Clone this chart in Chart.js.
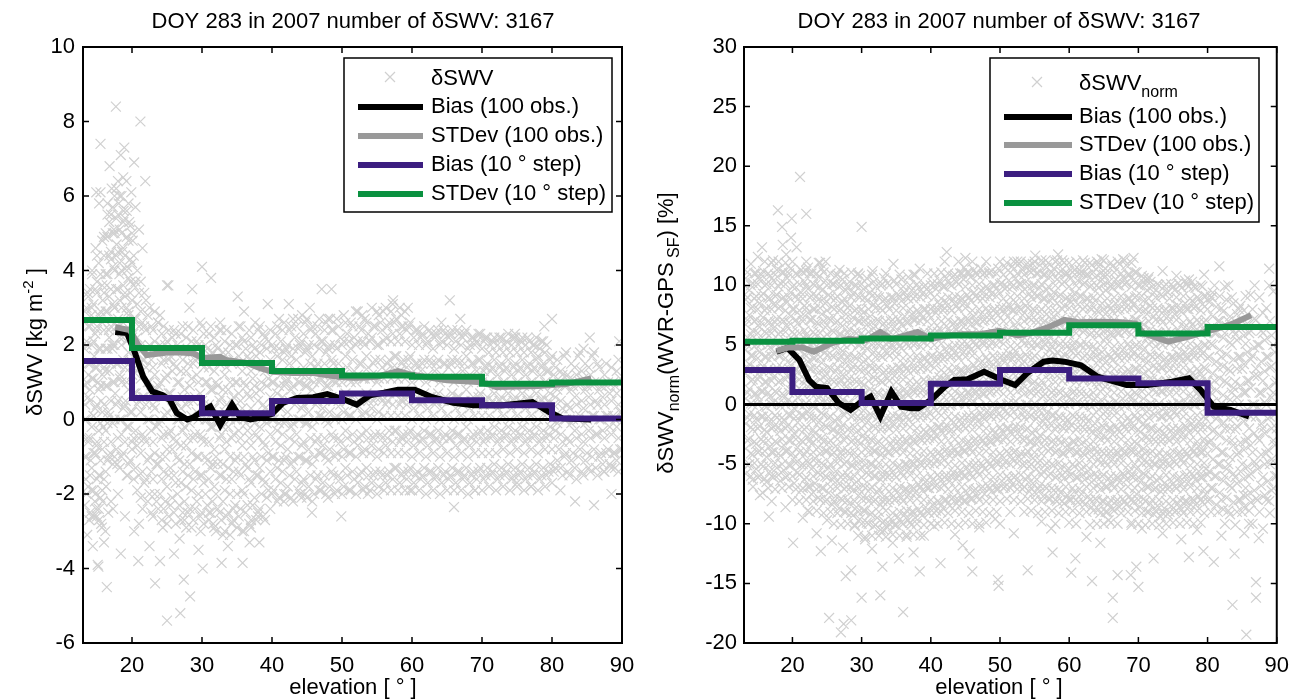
<!DOCTYPE html>
<html>
<head>
<meta charset="utf-8">
<script src="https://cdn.jsdelivr.net/npm/chart.js@4.4.1/dist/chart.umd.min.js"></script>
<style>
  html, body { margin: 0; padding: 0; background: #fff; }
  #wrap { position: relative; width: 1299px; height: 700px; }
  #wrap canvas { position: absolute; left: 0; top: 0; }
</style>
</head>
<body>
<div id="wrap">
  <canvas id="left" width="1299" height="700"></canvas>
  <canvas id="right" width="1299" height="700"></canvas>
</div>
<script>
// ---- data ----
const titleText = 'DOY 283 in 2007 number of δSWV: 3167';
const xTicks = [20, 30, 40, 50, 60, 70, 80, 90];
const leftYTicks = [-6, -4, -2, 0, 2, 4, 6, 8, 10];
const rightYTicks = [-20, -15, -10, -5, 0, 5, 10, 15, 20, 25, 30];
const legendLabels = ['Bias (100 obs.)', 'STDev (100 obs.)', 'Bias (10 ° step)', 'STDev (10 ° step)'];

const stepEdges = [13, 20, 30, 40, 50, 60, 70, 80, 90];
const leftBias10 = [1.57, 0.58, 0.17, 0.5, 0.7, 0.52, 0.38, 0.03];
const leftStd10 = [2.67, 1.92, 1.52, 1.30, 1.18, 1.15, 0.96, 0.99];
const rightBias10 = [2.9, 1.05, 0.13, 1.75, 2.9, 2.2, 1.79, -0.68];
const rightStd10 = [5.27, 5.36, 5.55, 5.8, 6.03, 6.66, 5.97, 6.52];

const leftBias100 = [[17.6,2.35],[19.3,2.32],[20.4,1.8],[21.6,1.15],[22.9,0.75],[24.4,0.65],[25.4,0.52],[26.4,0.17],[27.9,0.0],[28.7,0.05],[30.7,0.3],[31.2,0.35],[32.6,-0.15],[34.3,0.4],[35.4,0.07],[36.9,0.0],[38.3,0.05],[40,0.15],[41.6,0.45],[43.6,0.58],[45.9,0.6],[47.9,0.68],[50.1,0.55],[52.1,0.4],[54,0.65],[56,0.72],[58,0.8],[60.4,0.8],[62.9,0.6],[65.9,0.45],[68.8,0.38],[73,0.38],[77.2,0.47],[79.6,0.2],[81.5,0.03],[85.6,0.0]];
const leftStd100 = [[17.6,2.48],[19.7,2.4],[20.9,2.0],[22.1,1.73],[25,1.8],[26.9,1.8],[28.7,1.78],[30.1,1.65],[32.6,1.68],[33.4,1.6],[36.4,1.52],[38.3,1.38],[40.1,1.28],[43,1.25],[45.9,1.25],[49.7,1.14],[52,1.12],[55,1.15],[58,1.3],[60,1.2],[65,1.05],[70,1.0],[72,0.87],[78,0.9],[82,0.95],[85.6,1.1]];
const rightBias100 = [[17.7,4.44],[19.3,4.75],[21,3.74],[22.4,2.06],[23.4,1.5],[25,1.39],[26.7,0.13],[28.4,-0.45],[30,0.25],[31.3,0.66],[32.7,-1.0],[34.3,1.08],[35.7,-0.18],[37.2,-0.3],[38.2,-0.3],[40,0.38],[42,1.5],[43.4,2.06],[45.3,2.12],[47.7,2.76],[50.3,2.06],[52.2,1.64],[53.9,2.62],[56.3,3.6],[57.6,3.7],[59.3,3.6],[61.7,3.3],[64.1,2.34],[68.3,1.64],[71.3,1.64],[74.9,1.92],[77.3,2.2],[79,1.22],[80.9,-0.18],[83.3,-0.45],[86,-1.0]];
const rightStd100 = [[17.7,4.5],[19.5,4.8],[21.4,4.8],[23.1,4.44],[25.7,5.16],[28.1,5.5],[30.6,5.4],[32.7,6.1],[34.3,5.5],[36.3,5.8],[38.1,6.1],[40,5.5],[42.4,5.8],[44.7,5.9],[47.1,5.9],[49.9,6.2],[52.6,5.8],[54.4,6.0],[57,6.5],[59.3,7.1],[61.5,6.9],[64.7,6.95],[67.5,6.9],[69.6,6.8],[70.7,6.0],[74.3,5.28],[77.3,5.7],[80.3,6.2],[83.3,6.7],[86.3,7.5]];

// δSWV [kg m^-2]: scattered / outlying observations
const leftScatter = [
  [13.3,0.4],[13.4,-1.6],[13.5,2.1],[13.6,-0.5],[13.7,3.4],[13.8,1.2],[13.9,-2.7],[14.0,0.8],[14.1,-1.1],[14.2,2.8],[14.3,3.9],[14.4,-3.4],[14.5,0.1],[14.6,1.7],[14.7,-2.2],[14.8,4.6],[14.9,-0.7],[15.0,2.5],[15.1,-3.9],[15.2,1.0],[15.3,5.8],[15.4,-1.5],[15.5,6.1],[15.6,0.5],[15.7,-2.9],[15.8,3.2],[15.9,-0.2],[16.0,4.9],[15.5,7.4],[14.9,6.1],[14.3,4.0],[15.0,3.7],[16.4,-4.5],[15.2,-3.95],[14.6,-2.6],[15.6,-2.8],[16.0,-3.3],[14.9,-2.4],[15.3,-2.7],[15.8,-2.2],[16.2,-3.0],[16.6,-2.5],[14.2,-1.9],[13.6,-3.1],
  [16.2,1.3],[16.3,-1.8],[16.4,3.6],[16.5,5.5],[16.6,0.2],[16.7,2.4],[16.8,6.8],[16.9,-0.9],[17.0,4.3],[17.1,6.2],[17.2,1.9],[17.3,-2.4],[17.4,5.1],[17.5,3.0],[17.6,0.7],[17.7,8.4],[17.8,4.7],[17.9,-1.2],[18.0,2.7],[18.1,5.8],[18.2,3.9],[18.3,1.1],[18.4,7.1],[18.5,-0.4],[18.6,4.5],[18.7,2.2],[18.8,5.6],[18.9,7.3],[19.0,3.3],[19.1,0.5],[19.2,6.4],[19.3,4.1],[19.4,-1.5],[19.5,2.9],[19.6,5.3],[19.7,1.6],[19.8,3.7],[19.9,6.1],[20.0,-0.6],[20.1,4.8],[20.3,6.9],[20.2,2.3],[18.4,-3.6],[20.3,-3.0],[20.9,-3.8],[17.0,-2.2],[18.0,-2.0],[19.0,-2.6],[21.2,8.0],[21.9,6.4],[20.5,5.7],[21.0,5.1],[21.5,4.6],
  [24.0,-3.8],[23.3,-4.4],[25.0,-5.4],[26.9,-5.2],[27.4,-4.3],[28.3,-4.75],[22.5,-3.4],[26.0,-3.6],[29.5,-3.5],[25.0,3.6],[21.0,-2.8],[23.7,2.6],[27.5,-2.7],[28.6,3.5],[28.2,3.0],[25.2,3.6],[26.8,-3.2],[29.8,-3.0],[24.4,-2.9],
  [30.0,4.1],[31.3,3.8],[32.8,-3.85],[35.8,-3.85],[38.2,-3.3],[33.7,-3.4],[30.1,-4.0],[35.1,3.3],[31.0,-2.5],[34.5,-2.7],[37.0,-2.9],[36.0,2.9],[39.4,3.1],[36.8,-3.3],[33.0,-3.1],[31.6,-2.8],[35.0,-2.9],[38.0,-2.6],[32.6,2.6],[37.6,2.6],
  [42.4,3.1],[45.4,3.0],[45.7,-2.5],[47.1,3.5],[48.5,3.5],[48.3,2.7],[49.9,-2.6],[44.2,-2.1],[41.7,-2.2],[44.3,2.8],[53.7,-2.0],[55.9,2.9],[57.3,3.2],[59.4,3.0],[58.5,2.8],[52.9,2.8],[59.7,-1.9],
  [65.4,3.2],[66.0,-2.35],[66.9,2.7],[64.2,2.6],[69.0,-1.9],[74.7,2.3],[78.9,2.5],[80.0,2.7],[77.0,-1.8],[75.0,-1.7],
  [83.3,-2.2],[85.4,2.2],[86.0,-2.3],[88.5,-2.0],[89.6,2.1],[89.0,-1.3],[87.4,-1.4],[81.2,-1.9],[84.0,1.8],[86.5,1.5]
];
// δSWV [kg m^-2]: dense core, [elevation, values]
const leftCore = [
  [13.25,[-2.3,-1.0,0.0,0.9,1.9,2.9]],[13.75,[-1.8,-0.6,0.6,1.5,2.5,3.3]],[14.25,[-2.6,-1.3,-0.2,1.1,2.0,3.0]],[14.75,[-2.0,-0.9,0.3,1.4,2.3,3.5]],
  [15.25,[-2.4,-1.5,-0.3,0.8,1.9,2.8,4.2]],[15.75,[-1.9,-0.8,0.2,1.2,2.6,3.6,4.8]],[16.25,[-1.4,-0.3,0.9,1.9,2.9,3.9,5.0]],[16.75,[-1.0,0.1,1.3,2.2,3.3,4.4,5.3]],
  [17.25,[-1.2,-0.1,1.0,2.0,3.1,4.1,5.0,5.7]],[17.75,[-0.8,0.4,1.5,2.5,3.5,4.4,5.4,6.2]],[18.25,[-1.3,0.0,1.2,2.2,3.2,4.2,5.1,6.0]],[18.75,[-0.9,0.3,1.6,2.6,3.6,4.6,5.3,6.5]],
  [19.25,[-1.5,-0.2,1.0,2.1,3.0,4.0,4.9,5.6]],[19.75,[-1.1,0.2,1.4,2.4,3.4,4.3,5.2]],[20.25,[-1.6,-0.5,0.7,1.7,2.7,3.6,4.4]],[20.75,[-1.9,-0.7,0.4,1.3,2.2,3.1,4.0]],
  [21.25,[-2.1,-0.9,0.2,1.1,2.0,2.9,3.7]],[21.75,[-1.7,-0.5,0.6,1.6,2.5,3.4]],[22.25,[-2.2,-1.1,0.0,1.0,1.9,2.8]],[22.75,[-2.5,-1.4,-0.3,0.7,1.6,2.5]],
  [23.25,[-2.0,-0.9,0.3,1.2,2.1,2.9]],[23.75,[-2.4,-1.2,-0.1,0.9,1.8,2.6]],[24.25,[-2.7,-1.6,-0.5,0.6,1.5,2.3]],[24.75,[-2.2,-1.0,0.1,1.1,2.0]],
  [25.25,[-2.6,-1.5,-0.4,0.7,1.6,2.4]],[25.75,[-2.1,-0.8,0.3,1.3,2.2]],[26.25,[-2.8,-1.7,-0.6,0.5,1.4,2.3]],[26.75,[-2.3,-1.1,0.0,1.0,1.9]],
  [27.25,[-2.5,-1.4,-0.3,0.6,1.6,2.5]],[27.75,[-2.9,-1.8,-0.7,0.4,1.3,2.2]],[28.25,[-2.4,-1.2,-0.1,0.9,1.8]],[28.75,[-2.7,-1.6,-0.5,0.5,1.5,2.4]],
  [29.25,[-2.2,-1.0,0.2,1.2,2.1]],[29.75,[-2.6,-1.5,-0.4,0.7,1.7,2.6]],[30.25,[-2.8,-1.7,-0.6,0.4,1.4,2.3]],[30.75,[-2.3,-1.1,0.0,1.0,1.9]],
  [31.25,[-2.5,-1.3,-0.2,0.8,1.7,2.5]],[31.75,[-2.9,-1.8,-0.8,0.3,1.3,2.2]],[32.25,[-2.4,-1.2,-0.1,0.9,1.9]],[32.75,[-2.7,-1.5,-0.4,0.6,1.6,2.4]],
  [33.25,[-3.0,-1.9,-0.8,0.2,1.2,2.1]],[33.75,[-2.5,-1.3,-0.2,0.8,1.8]],[34.25,[-2.8,-1.6,-0.5,0.5,1.5,2.3]],[34.75,[-2.3,-1.1,0.0,1.0,2.0]],
  [35.25,[-2.6,-1.4,-0.3,0.7,1.7,2.5]],[35.75,[-3.0,-1.9,-0.7,0.3,1.3,2.2]],[36.25,[-2.5,-1.2,-0.1,0.9,1.9]],[36.75,[-2.8,-1.6,-0.5,0.6,1.6,2.4]],
  [37.25,[-2.3,-1.0,0.1,1.1,2.0]],[37.75,[-2.7,-1.5,-0.4,0.7,1.7]],[38.25,[-2.4,-1.3,-0.2,0.8,1.8,2.5]],[38.75,[-2.6,-1.6,-0.6,0.4,1.4,2.3]],
  [39.25,[-2.1,-1.1,-0.1,0.9,1.9]],[39.75,[-2.4,-1.4,-0.4,0.6,1.6,2.4]],[40.25,[-1.9,-1.0,0.0,1.0,1.9]],[40.75,[-2.2,-1.3,-0.3,0.7,1.7,2.5]],
  [41.25,[-1.7,-0.7,0.3,1.2,2.1]],[41.75,[-2.0,-1.1,-0.1,0.9,1.8,2.6]],[42.25,[-1.8,-0.8,0.2,1.1,2.0]],[42.75,[-2.1,-1.2,-0.2,0.8,1.7,2.5]],
  [43.25,[-1.6,-0.6,0.4,1.3,2.2]],[43.75,[-1.9,-1.0,0.0,1.0,1.9,2.7]],[44.25,[-1.7,-0.7,0.3,1.2,2.1]],[44.75,[-2.0,-1.1,-0.1,0.9,1.8,2.6]],
  [45.25,[-1.8,-0.8,0.2,1.1,2.0]],[45.75,[-2.2,-1.2,-0.2,0.8,1.7,2.5]],[46.25,[-1.6,-0.6,0.4,1.4,2.3]],[46.75,[-1.9,-0.9,0.1,1.0,1.9,2.7]],
  [47.25,[-1.7,-0.7,0.3,1.2,2.1]],[47.75,[-2.0,-1.0,0.0,0.9,1.8,2.6]],[48.25,[-1.8,-0.8,0.2,1.1,2.0]],[48.75,[-1.5,-0.5,0.5,1.5,2.4]],
  [49.25,[-1.9,-0.9,0.1,1.0,1.9,2.7]],[49.75,[-1.6,-0.6,0.4,1.3,2.2]],[50.25,[-1.8,-0.8,0.2,1.2,2.1,2.8]],[50.75,[-1.5,-0.5,0.5,1.4,2.3]],
  [51.25,[-1.9,-0.9,0.1,1.0,1.9,2.6]],[51.75,[-1.6,-0.6,0.4,1.3,2.2]],[52.25,[-1.7,-0.7,0.3,1.2,2.1,2.9]],[52.75,[-1.4,-0.4,0.6,1.5,2.4]],
  [53.25,[-1.8,-0.8,0.2,1.1,2.0,2.7]],[53.75,[-1.5,-0.5,0.5,1.4,2.3]],[54.25,[-1.7,-0.7,0.3,1.2,2.2,3.0]],[54.75,[-1.4,-0.4,0.6,1.6,2.5]],
  [55.25,[-1.8,-0.8,0.2,1.1,2.0,2.8]],[55.75,[-1.5,-0.5,0.5,1.4,2.4]],[56.25,[-1.7,-0.7,0.4,1.3,2.2,3.0]],[56.75,[-1.4,-0.3,0.7,1.6,2.6]],
  [57.25,[-1.6,-0.6,0.4,1.4,2.3,3.1]],[57.75,[-1.3,-0.3,0.7,1.7,2.7]],[58.25,[-1.7,-0.6,0.4,1.3,2.3,3.0]],[58.75,[-1.4,-0.4,0.6,1.6,2.5]],
  [59.25,[-1.6,-0.6,0.4,1.4,2.4]],[59.75,[-1.3,-0.3,0.7,1.7,2.6]],[60.25,[-1.7,-0.7,0.3,1.3,2.2]],[60.75,[-1.4,-0.4,0.6,1.5,2.4]],
  [61.25,[-1.6,-0.6,0.4,1.3,2.2]],[61.75,[-1.3,-0.3,0.7,1.6,2.5]],[62.25,[-1.7,-0.7,0.3,1.2,2.1]],[62.75,[-1.4,-0.4,0.6,1.5,2.3]],
  [63.25,[-1.6,-0.6,0.4,1.3,2.2]],[63.75,[-1.3,-0.3,0.7,1.6,2.4]],[64.25,[-1.7,-0.7,0.3,1.2,2.1]],[64.75,[-1.4,-0.4,0.6,1.5,2.3]],
  [65.25,[-1.6,-0.5,0.5,1.4,2.2]],[65.75,[-1.3,-0.3,0.7,1.6,2.4]],[66.25,[-1.7,-0.7,0.3,1.2,2.1]],[66.75,[-1.4,-0.4,0.6,1.5,2.3]],
  [67.25,[-1.6,-0.6,0.4,1.3,2.2]],[67.75,[-1.3,-0.2,0.8,1.7,2.4]],[68.25,[-1.7,-0.7,0.3,1.2,2.0]],[68.75,[-1.4,-0.4,0.6,1.5,2.2]],
  [69.25,[-1.6,-0.6,0.4,1.3,2.1]],[69.75,[-1.3,-0.3,0.7,1.6,2.3]],[70.25,[-1.6,-0.6,0.4,1.3,2.1]],[70.75,[-1.3,-0.3,0.6,1.5,2.2]],
  [71.25,[-1.5,-0.5,0.4,1.3,2.0]],[71.75,[-1.2,-0.2,0.7,1.6,2.2]],[72.25,[-1.6,-0.6,0.3,1.2,2.0]],[72.75,[-1.3,-0.3,0.6,1.5,2.2]],
  [73.25,[-1.5,-0.5,0.4,1.3,2.0]],[73.75,[-1.2,-0.2,0.7,1.6,2.3]],[74.25,[-1.6,-0.6,0.3,1.2,2.0]],[74.75,[-1.3,-0.3,0.6,1.5,2.2]],
  [75.25,[-1.5,-0.5,0.4,1.3,2.0]],[75.75,[-1.2,-0.2,0.7,1.6,2.2]],[76.25,[-1.6,-0.6,0.3,1.2,2.0]],[76.75,[-1.3,-0.3,0.6,1.5,2.1]],
  [77.25,[-1.5,-0.5,0.4,1.3,2.0]],[77.75,[-1.2,-0.2,0.7,1.6,2.2]],[78.25,[-1.6,-0.6,0.3,1.2,1.9]],[78.75,[-1.3,-0.3,0.6,1.5,2.1]],
  [79.25,[-1.5,-0.5,0.4,1.3,2.0]],[79.75,[-1.2,-0.2,0.7,1.6]],[80.25,[-1.4,-0.5,0.4,1.2]],[80.75,[-1.1,-0.1,0.8,1.6]],
  [81.25,[-1.3,-0.4,0.5,1.3]],[81.75,[-1.0,0.0,0.9,1.7]],[82.25,[-1.4,-0.5,0.4,1.2]],[82.75,[-1.1,-0.1,0.8,1.5]],
  [83.25,[-1.3,-0.3,0.6,1.4]],[83.75,[-1.0,0.0,0.9,1.7]],[84.25,[-1.4,-0.4,0.5,1.3]],[84.75,[-1.1,-0.1,0.8,1.5]],
  [85.25,[-1.3,-0.3,0.6,1.4]],[85.75,[-1.0,0.1,0.9,1.7]],[86.25,[-1.3,-0.4,0.5]],[86.75,[-1.0,0.0,0.8,1.4]],
  [87.25,[-1.2,-0.3,0.6]],[87.75,[-0.9,0.1,0.9,1.5]],[88.25,[-1.2,-0.2,0.7]],[88.75,[-0.9,0.1,1.0]],
  [89.25,[-1.1,-0.2,0.7,1.3]],[89.75,[-0.8,0.2,1.1]]
];
const leftCore2 = [
  [13.5,[-2.0,-1.0,0.0,1.0,2.0,3.0]],[14.0,[-2.5,-1.5,-0.5,0.5,1.5,2.5,3.5]],[14.5,[-1.9,-0.9,0.1,1.1,2.1,3.1]],[15.0,[-2.6,-1.6,-0.6,0.4,1.4,2.4,3.4,4.4]],
  [15.5,[-2.1,-1.1,-0.1,0.9,1.9,2.9,3.9]],[16.0,[-1.6,-0.6,0.4,1.4,2.4,3.4,4.4]],[16.5,[-1.1,-0.1,0.9,1.9,2.9,3.9,4.9,5.8]],[17.0,[-0.6,0.5,1.5,2.5,3.5,4.5,5.5]],
  [17.5,[-1.0,0.0,1.0,2.0,3.0,4.0,5.0,6.0]],[18.0,[-0.5,0.5,1.5,2.5,3.5,4.5,5.5,6.4]],[18.5,[-1.0,0.0,1.0,2.0,3.0,4.0,5.0,6.0]],[19.0,[-0.6,0.4,1.4,2.4,3.4,4.4,5.4]],
  [19.5,[-1.2,-0.2,0.8,1.8,2.8,3.8,4.8,5.8]],[20.0,[-0.8,0.2,1.2,2.2,3.2,4.2,5.0]],[20.5,[-1.3,-0.3,0.7,1.7,2.7,3.7]],[21.0,[-1.5,-0.5,0.5,1.5,2.5,3.4]],
  [21.5,[-2.4,-1.4,-0.4,0.6,1.6,2.6]],[22.0,[-1.6,-0.6,0.4,1.4,2.4,3.2]],[22.5,[-2.0,-1.0,0.0,1.0,2.0,3.0]],[23.0,[-2.6,-1.6,-0.6,0.4,1.4,2.4]],
  [23.5,[-2.2,-1.2,-0.2,0.8,1.8]],[24.0,[-2.0,-1.0,0.0,1.0,2.0,2.8]],[24.5,[-2.4,-1.4,-0.4,0.6,1.6,2.5]],[25.0,[-2.8,-1.8,-0.8,0.2,1.2,2.1]],
  [25.5,[-2.3,-1.3,-0.3,0.7,1.7]],[26.0,[-2.5,-1.5,-0.5,0.5,1.5,2.4]],[26.5,[-2.0,-1.0,0.0,1.0,2.0]],[27.0,[-2.7,-1.7,-0.7,0.3,1.3,2.3]],
  [27.5,[-2.2,-1.2,-0.2,0.8,1.8]],[28.0,[-2.5,-1.5,-0.5,0.5,1.5,2.5]],[28.5,[-2.9,-1.9,-0.9,0.1,1.1,2.1]],[29.0,[-2.4,-1.4,-0.4,0.6,1.6]],
  [29.5,[-2.0,-1.0,0.0,1.0,2.0]],[30.0,[-2.5,-1.5,-0.5,0.5,1.5,2.5]],[30.5,[-2.0,-1.0,0.0,1.0,2.0]],[31.0,[-2.7,-1.6,-0.6,0.4,1.4,2.3]],
  [31.5,[-2.2,-1.2,-0.2,0.8,1.8]],[32.0,[-3.0,-2.0,-1.0,0.0,1.0,2.0]],[32.5,[-2.5,-1.5,-0.5,0.5,1.5,2.4]],[33.0,[-2.2,-1.2,-0.2,0.8,1.8]],
  [33.5,[-2.6,-1.6,-0.6,0.4,1.4,2.4]],[34.0,[-3.1,-2.0,-1.0,0.0,1.0,2.0]],[34.5,[-2.4,-1.4,-0.4,0.6,1.6]],[35.0,[-2.0,-1.0,0.0,1.0,2.0]],
  [35.5,[-2.4,-1.5,-0.5,0.5,1.5,2.5]],[36.0,[-3.0,-2.0,-1.0,0.0,1.0,2.1]],[36.5,[-2.3,-1.3,-0.3,0.7,1.7]],[37.0,[-2.7,-1.7,-0.7,0.3,1.3,2.2]],
  [37.5,[-2.1,-1.1,-0.1,0.9,1.9]],[38.0,[-2.5,-1.5,-0.5,0.5,1.5,2.4]],[38.5,[-2.0,-1.0,0.0,1.0,2.0]],[39.0,[-2.7,-1.7,-0.7,0.3,1.3,2.2]],
  [39.5,[-1.9,-0.9,0.1,1.1,2.1]],[40.0,[-2.0,-1.0,0.0,1.0,2.0]],[40.5,[-1.6,-0.6,0.4,1.4,2.3]],[41.0,[-2.1,-1.1,-0.1,0.9,1.9,2.7]],
  [41.5,[-1.4,-0.4,0.6,1.6,2.4]],[42.0,[-2.0,-1.0,0.0,1.0,1.9]],[42.5,[-1.5,-0.5,0.5,1.5,2.4]],[43.0,[-2.2,-1.1,-0.1,0.9,1.9,2.7]],
  [43.5,[-1.4,-0.4,0.6,1.6,2.5]],[44.0,[-2.0,-1.0,0.0,1.0,2.0]],[44.5,[-1.6,-0.6,0.4,1.4,2.3]],[45.0,[-2.1,-1.1,-0.1,0.9,1.9,2.7]],
  [45.5,[-1.5,-0.5,0.5,1.5,2.4]],[46.0,[-2.0,-1.0,0.0,1.0,2.0]],[46.5,[-1.5,-0.5,0.5,1.5,2.5]],[47.0,[-1.9,-0.9,0.1,1.1,2.1]],
  [47.5,[-1.5,-0.5,0.5,1.5,2.4]],[48.0,[-2.1,-1.1,-0.1,0.9,1.9,2.7]],[48.5,[-1.4,-0.4,0.6,1.6,2.4]],[49.0,[-2.0,-1.0,0.0,1.0,2.0]],
  [49.5,[-1.5,-0.5,0.5,1.5,2.5]],[50.0,[-2.0,-1.0,0.0,1.0,2.0]],[50.5,[-1.3,-0.3,0.7,1.7,2.6]],[51.0,[-1.9,-0.9,0.1,1.1,2.1]],
  [51.5,[-1.4,-0.4,0.6,1.6,2.5]],[52.0,[-2.0,-1.0,0.0,1.0,2.0,2.9]],[52.5,[-1.5,-0.5,0.5,1.5,2.5]],[53.0,[-1.9,-0.9,0.1,1.1,2.1]],
  [53.5,[-1.3,-0.3,0.7,1.7,2.6]],[54.0,[-1.9,-0.9,0.1,1.1,2.1]],[54.5,[-1.5,-0.5,0.5,1.5,2.5]],[55.0,[-2.0,-1.0,0.0,1.0,2.0,2.9]],
  [55.5,[-1.4,-0.4,0.6,1.6,2.6]],[56.0,[-1.9,-0.9,0.1,1.1,2.1]],[56.5,[-1.5,-0.5,0.5,1.5,2.5]],[57.0,[-1.9,-0.9,0.1,1.1,2.1,2.9]],
  [57.5,[-1.3,-0.3,0.7,1.7,2.6]],[58.0,[-1.9,-0.9,0.1,1.1,2.1]],[58.5,[-1.5,-0.5,0.5,1.5,2.5]],[59.0,[-1.9,-0.9,0.1,1.1,2.1,2.9]],
  [59.5,[-1.4,-0.4,0.6,1.6,2.5]],[60.0,[-1.9,-1.0,0.0,1.0,2.0]],[60.5,[-1.5,-0.5,0.5,1.5,2.4]],[61.0,[-1.9,-0.9,0.1,1.1,2.0]],
  [61.5,[-1.5,-0.5,0.5,1.5,2.3]],[62.0,[-2.0,-1.0,0.0,1.0,2.0]],[62.5,[-1.4,-0.4,0.6,1.6,2.4]],[63.0,[-1.9,-0.9,0.1,1.1,1.9]],
  [63.5,[-1.5,-0.5,0.5,1.5,2.3]],[64.0,[-2.0,-1.0,0.0,1.0,2.0]],[64.5,[-1.5,-0.5,0.5,1.5,2.4]],[65.0,[-1.9,-0.9,0.1,1.1,2.0]],
  [65.5,[-1.5,-0.5,0.5,1.5,2.3]],[66.0,[-1.9,-1.0,0.0,1.0,1.9]],[66.5,[-1.4,-0.4,0.6,1.6,2.4]],[67.0,[-1.9,-0.9,0.1,1.1,2.0]],
  [67.5,[-1.5,-0.5,0.5,1.5,2.3]],[68.0,[-2.0,-1.0,0.0,1.0,1.9]],[68.5,[-1.5,-0.5,0.5,1.5,2.2]],[69.0,[-1.9,-0.9,0.1,1.1,2.0]],
  [69.5,[-1.4,-0.4,0.6,1.6,2.3]],[70.0,[-1.9,-0.9,0.1,1.0,1.9]],[70.5,[-1.5,-0.5,0.5,1.4,2.2]],[71.0,[-1.8,-0.9,0.1,1.0,1.8]],
  [71.5,[-1.4,-0.4,0.5,1.4,2.1]],[72.0,[-1.9,-0.9,0.0,0.9,1.8]],[72.5,[-1.5,-0.5,0.5,1.4,2.2]],[73.0,[-1.8,-0.8,0.1,1.0,1.8]],
  [73.5,[-1.4,-0.4,0.5,1.4,2.1]],[74.0,[-1.9,-0.9,0.0,0.9,1.8]],[74.5,[-1.5,-0.5,0.5,1.4,2.2]],[75.0,[-1.8,-0.8,0.1,1.0,1.8]],
  [75.5,[-1.4,-0.4,0.5,1.4,2.1]],[76.0,[-1.9,-0.9,0.0,0.9,1.8]],[76.5,[-1.5,-0.5,0.5,1.4,2.2]],[77.0,[-1.8,-0.8,0.1,1.0,1.8]],
  [77.5,[-1.4,-0.4,0.5,1.4,2.0]],[78.0,[-1.9,-0.9,0.0,0.9,1.7]],[78.5,[-1.5,-0.5,0.5,1.4,2.1]],[79.0,[-1.8,-0.8,0.1,1.0,1.8]],
  [79.5,[-1.4,-0.4,0.5,1.3]],[80.0,[-1.7,-0.8,0.0,0.9,1.7]],[80.5,[-1.3,-0.3,0.6,1.4]],[81.0,[-0.8,0.1,1.0]],
  [81.5,[-1.5,-0.6,0.3,1.2]],[82.0,[-0.9,0.0,0.9,1.8]],[82.5,[-1.5,-0.6,0.3,1.1]],[83.0,[-0.9,0.0,0.9]],
  [83.5,[-1.6,-0.5,0.4,1.2]],[84.0,[-0.8,0.1,1.0]],[84.5,[-1.5,-0.6,0.3,1.1,1.9]],[85.0,[-0.9,0.0,0.9]],
  [85.5,[-1.4,-0.5,0.4,1.2]],[86.0,[-0.8,0.1,1.0,1.8]],[86.5,[-1.5,-0.4,0.4]],[87.0,[-0.9,0.0,0.9]],
  [87.5,[-1.4,-0.5,0.4,1.2]],[88.0,[-0.8,0.1,1.0]],[88.5,[-1.3,-0.4,0.5,1.4]],[89.0,[-0.9,0.0,0.9]],
  [89.5,[-1.4,-0.5,0.4,1.6]],[90.0,[-0.8,0.2]]
];

// δSWV_norm [%]: scattered / outlying observations
const rightScatter = [
  [15.6,13.2],[17.9,16.3],[18.5,14.9],[18.6,13.4],[19.8,14.0],[19.9,15.6],[17.2,12.1],[19.1,12.6],[14.0,11.8],[15.0,12.4],[16.6,-9.4],[17.0,-8.1],[19.0,-8.6],[20.1,-11.6],[15.3,-7.6],[15.7,-7.4],[14.3,-6.9],
  [20.6,13.2],[21.1,19.1],[22.0,16.0],[22.0,11.2],[23.8,11.9],[24.8,12.0],[22.2,-8.9],[24.1,-12.3],[25.0,-9.7],[25.3,-17.9],[27.0,-19.1],[27.4,-18.4],[27.7,-14.4],[28.5,-13.9],[28.5,-18.1],[29.0,-10.2],[30.0,14.9],[30.0,-16.2],[21.5,-9.5],[23.5,-10.8],[25.7,-11.4],[27.3,-12.0],[26.8,11.3],[29.4,10.9],
  [31.6,11.2],[32.7,-16.0],[33.0,-13.6],[34.6,11.8],[35.4,-12.9],[36.0,-17.4],[38.4,-14.0],[38.4,11.4],[39.0,-11.0],[30.5,-11.3],[31.5,-12.1],[34.5,-11.6],[36.5,-10.9],[37.5,-12.4],[33.2,-10.5],[37.2,-10.1],
  [41.4,-13.3],[42.3,12.8],[44.8,11.5],[45.0,12.3],[45.6,-12.5],[46.0,-14.0],[48.4,11.0],[49.7,-14.7],[49.8,-15.2],[40.5,-10.2],[43.5,-10.9],[47.0,-10.3],[44.6,-11.8],[49.3,-9.6],
  [54.0,-13.9],[54.1,11.6],[55.1,12.5],[57.4,-10.4],[57.6,-12.4],[58.4,12.6],[59.5,11.1],[50.0,-10.0],[52.0,-10.8],[52.5,12.0],[56.6,12.1],[56.0,-9.8],
  [60.3,-14.1],[60.9,-12.9],[61.5,11.3],[63.3,-14.8],[64.2,11.9],[64.7,12.2],[65.7,-9.7],[66.3,-16.2],[66.3,-17.9],[67.0,-14.3],[67.8,12.2],[68.9,-14.3],[69.0,-10.1],[69.3,12.3],[69.7,-13.6],[62.5,-11.1],[64.5,-11.6],[62.0,11.0],[65.0,10.9],
  [70.0,-15.3],[72.2,-12.9],[73.5,11.2],[76.2,-11.3],[77.3,10.5],[77.3,-12.8],[79.4,-12.3],[79.5,10.9],[70.5,-10.4],[73.5,-10.8],[78.5,-10.5],[71.4,10.5],
  [80.9,-13.2],[81.7,11.6],[82.0,-11.0],[83.0,10.0],[83.6,-16.8],[83.9,-12.5],[85.3,-10.8],[85.6,-19.3],[86.0,-10.0],[86.2,9.2],[86.8,10.0],[87.0,-14.9],[87.0,-16.2],[87.4,-11.2],[88.0,-10.4],[88.0,7.7],[88.9,11.4],[88.9,10.0],[88.9,-8.1],[80.6,9.0],[85.2,-7.6]
];
// δSWV_norm [%]: dense core, [elevation, values]
const rightCore = [
  [13.25,[-5.8,-3.7,-1.6,0.5,2.6,4.6,6.7,8.8,10.6]],[13.75,[-5.0,-2.9,-0.8,1.3,3.4,5.5,7.5,9.6]],[14.25,[-6.3,-4.2,-2.1,0.0,2.1,4.1,6.2,8.2,10.2]],[14.75,[-5.4,-3.3,-1.2,0.9,3.0,5.0,7.1,9.1,11.0]],
  [15.25,[-6.0,-3.9,-1.8,0.3,2.4,4.4,6.5,8.5,10.5]],[15.75,[-5.2,-3.1,-1.0,1.1,3.2,5.3,7.3,9.3,11.2]],[16.25,[-6.5,-4.4,-2.3,-0.2,1.9,4.0,6.0,8.1,10.1]],[16.75,[-5.6,-3.5,-1.4,0.7,2.8,4.8,6.9,8.9,10.8]],
  [17.25,[-6.1,-4.0,-1.9,0.2,2.3,4.3,6.4,8.4,10.4]],[17.75,[-5.3,-3.2,-1.1,1.0,3.1,5.1,7.2,9.2,11.3]],[18.25,[-6.4,-4.3,-2.2,-0.1,2.0,4.1,6.1,8.2,10.2]],[18.75,[-5.5,-3.4,-1.3,0.8,2.9,4.9,7.0,9.0,11.1]],
  [19.25,[-6.0,-3.9,-1.8,0.3,2.4,4.5,6.5,8.6,10.6]],[19.75,[-5.1,-3.0,-0.9,1.2,3.3,5.3,7.4,9.4,11.4]],[20.25,[-6.6,-4.5,-2.4,-0.3,1.8,3.9,5.9,8.0,10.0]],[20.75,[-5.7,-3.6,-1.5,0.6,2.7,4.7,6.8,8.8,10.9]],
  [21.25,[-7.2,-5.1,-3.0,-0.9,1.2,3.3,5.3,7.4,9.4,11.3]],[21.75,[-6.3,-4.2,-2.1,0.0,2.1,4.2,6.2,8.3,10.3]],[22.25,[-6.9,-4.8,-2.7,-0.6,1.5,3.6,5.6,7.7,9.7,11.5]],[22.75,[-7.5,-5.4,-3.3,-1.2,0.9,3.0,5.0,7.1,9.1,11.0]],
  [23.25,[-6.6,-4.5,-2.4,-0.3,1.8,3.9,5.9,8.0,10.0]],[23.75,[-7.8,-5.7,-3.6,-1.5,0.6,2.7,4.7,6.8,8.8,10.7]],[24.25,[-7.0,-4.9,-2.8,-0.7,1.4,3.5,5.5,7.6,9.6,11.4]],[24.75,[-8.1,-6.0,-3.9,-1.8,0.3,2.4,4.4,6.5,8.5,10.4]],
  [25.25,[-7.4,-5.3,-3.2,-1.1,1.0,3.1,5.1,7.2,9.2]],[25.75,[-8.4,-6.3,-4.2,-2.1,0.0,2.1,4.1,6.2,8.2,10.1]],[26.25,[-7.7,-5.6,-3.5,-1.4,0.7,2.8,4.8,6.9,8.9,10.8]],[26.75,[-8.7,-6.6,-4.5,-2.4,-0.3,1.8,3.8,5.9,7.9,9.9]],
  [27.25,[-8.0,-5.9,-3.8,-1.7,0.4,2.5,4.5,6.6,8.6,10.5]],[27.75,[-9.0,-6.9,-4.8,-2.7,-0.6,1.5,3.5,5.6,7.6,9.6]],[28.25,[-8.3,-6.2,-4.1,-2.0,0.1,2.2,4.2,6.3,8.3,10.3]],[28.75,[-9.3,-7.2,-5.1,-3.0,-0.9,1.2,3.2,5.3,7.3,9.3]],
  [29.25,[-8.6,-6.5,-4.4,-2.3,-0.2,1.9,3.9,6.0,8.0,10.0]],[29.75,[-9.6,-7.5,-5.4,-3.3,-1.2,0.9,2.9,5.0,7.0,9.0,10.8]],[30.25,[-8.9,-6.8,-4.7,-2.6,-0.5,1.6,3.6,5.7,7.7,9.7]],[30.75,[-9.9,-7.8,-5.7,-3.6,-1.5,0.6,2.6,4.7,6.7,8.7,10.6]],
  [31.25,[-9.2,-7.1,-5.0,-2.9,-0.8,1.3,3.3,5.4,7.4,9.4]],[31.75,[-10.2,-8.1,-6.0,-3.9,-1.8,0.3,2.3,4.4,6.4,8.4,10.3]],[32.25,[-9.5,-7.4,-5.3,-3.2,-1.1,1.0,3.0,5.1,7.1,9.1]],[32.75,[-10.5,-8.4,-6.3,-4.2,-2.1,0.0,2.0,4.1,6.1,8.1,10.0]],
  [33.25,[-9.8,-7.7,-5.6,-3.5,-1.4,0.7,2.7,4.8,6.8,8.8,10.6]],[33.75,[-10.3,-8.2,-6.1,-4.0,-1.9,0.2,2.2,4.3,6.3,8.3,10.2]],[34.25,[-9.6,-7.5,-5.4,-3.3,-1.2,0.9,2.9,5.0,7.0,9.0]],[34.75,[-10.1,-8.0,-5.9,-3.8,-1.7,0.4,2.4,4.5,6.5,8.5,10.4]],
  [35.25,[-9.4,-7.3,-5.2,-3.1,-1.0,1.1,3.1,5.2,7.2,9.2]],[35.75,[-9.9,-7.8,-5.7,-3.6,-1.5,0.6,2.6,4.7,6.7,8.7,10.5]],[36.25,[-9.2,-7.1,-5.0,-2.9,-0.8,1.3,3.3,5.4,7.4,9.4]],[36.75,[-9.7,-7.6,-5.5,-3.4,-1.3,0.8,2.8,4.9,6.9,8.9,10.7]],
  [37.25,[-9.0,-6.9,-4.8,-2.7,-0.6,1.5,3.5,5.6,7.6,9.6]],[37.75,[-9.5,-7.4,-5.3,-3.2,-1.1,1.0,3.0,5.1,7.1,9.1,10.9]],[38.25,[-8.8,-6.7,-4.6,-2.5,-0.4,1.7,3.7,5.8,7.8,9.8]],[38.75,[-9.3,-7.2,-5.1,-3.0,-0.9,1.2,3.2,5.3,7.3,9.3]],
  [39.25,[-8.6,-6.5,-4.4,-2.3,-0.2,1.9,3.9,6.0,8.0,10.0]],[39.75,[-9.1,-7.0,-4.9,-2.8,-0.7,1.4,3.4,5.5,7.5,9.5]],[40.25,[-8.4,-6.3,-4.2,-2.1,0.0,2.1,4.1,6.2,8.2,10.2]],[40.75,[-8.9,-6.8,-4.7,-2.6,-0.5,1.6,3.6,5.7,7.7,9.7]],
  [41.25,[-8.2,-6.1,-4.0,-1.9,0.2,2.3,4.3,6.4,8.4,10.4]],[41.75,[-8.7,-6.6,-4.5,-2.4,-0.3,1.8,3.8,5.9,7.9,9.9]],[42.25,[-8.0,-5.9,-3.8,-1.7,0.4,2.5,4.5,6.6,8.6,10.6]],[42.75,[-8.5,-6.4,-4.3,-2.2,-0.1,2.0,4.0,6.1,8.1,10.1]],
  [43.25,[-7.8,-5.7,-3.6,-1.5,0.6,2.7,4.7,6.8,8.8,10.8]],[43.75,[-8.3,-6.2,-4.1,-2.0,0.1,2.2,4.2,6.3,8.3,10.3]],[44.25,[-7.6,-5.5,-3.4,-1.3,0.8,2.9,4.9,7.0,9.0,11.0]],[44.75,[-8.1,-6.0,-3.9,-1.8,0.3,2.4,4.4,6.5,8.5,10.5]],
  [45.25,[-7.4,-5.3,-3.2,-1.1,1.0,3.1,5.1,7.2,9.2,11.1]],[45.75,[-7.9,-5.8,-3.7,-1.6,0.5,2.6,4.6,6.7,8.7,10.7]],[46.25,[-7.2,-5.1,-3.0,-0.9,1.2,3.3,5.3,7.4,9.4,11.3]],[46.75,[-7.7,-5.6,-3.5,-1.4,0.7,2.8,4.8,6.9,8.9,10.9]],
  [47.25,[-7.0,-4.9,-2.8,-0.7,1.4,3.5,5.5,7.6,9.6,11.4]],[47.75,[-7.5,-5.4,-3.3,-1.2,0.9,3.0,5.0,7.1,9.1,11.0]],[48.25,[-6.8,-4.7,-2.6,-0.5,1.6,3.7,5.7,7.8,9.8]],[48.75,[-7.3,-5.2,-3.1,-1.0,1.1,3.2,5.2,7.3,9.3,11.2]],
  [49.25,[-6.6,-4.5,-2.4,-0.3,1.8,3.9,5.9,8.0,10.0]],[49.75,[-7.1,-5.0,-2.9,-0.8,1.3,3.4,5.4,7.5,9.5,11.4]],[50.25,[-6.4,-4.3,-2.2,-0.1,2.0,4.1,6.1,8.2,10.2]],[50.75,[-6.9,-4.8,-2.7,-0.6,1.5,3.6,5.6,7.7,9.7,11.5]],
  [51.25,[-6.2,-4.1,-2.0,0.1,2.2,4.3,6.3,8.4,10.4]],[51.75,[-6.7,-4.6,-2.5,-0.4,1.7,3.8,5.8,7.9,9.9,11.6]],[52.25,[-6.0,-3.9,-1.8,0.3,2.4,4.5,6.5,8.6,10.6]],[52.75,[-6.5,-4.4,-2.3,-0.2,1.9,4.0,6.0,8.1,10.1,11.8]],
  [53.25,[-7.1,-5.0,-2.9,-0.8,1.3,3.4,5.4,7.5,9.5,11.3]],[53.75,[-6.3,-4.2,-2.1,0.0,2.1,4.2,6.2,8.3,10.3]],[54.25,[-7.3,-5.2,-3.1,-1.0,1.1,3.2,5.2,7.3,9.3,11.2]],[54.75,[-6.6,-4.5,-2.4,-0.3,1.8,3.9,5.9,8.0,10.0,11.8]],
  [55.25,[-7.5,-5.4,-3.3,-1.2,0.9,3.0,5.0,7.1,9.1,11.0]],[55.75,[-6.8,-4.7,-2.6,-0.5,1.6,3.7,5.7,7.8,9.8,11.7]],[56.25,[-7.7,-5.6,-3.5,-1.4,0.7,2.8,4.8,6.9,8.9,10.9]],[56.75,[-7.0,-4.9,-2.8,-0.7,1.4,3.5,5.5,7.6,9.6,11.5]],
  [57.25,[-7.9,-5.8,-3.7,-1.6,0.5,2.6,4.6,6.7,8.7,10.7]],[57.75,[-7.2,-5.1,-3.0,-0.9,1.2,3.3,5.3,7.4,9.4,11.4]],[58.25,[-8.1,-6.0,-3.9,-1.8,0.3,2.4,4.4,6.5,8.5,10.5,12.1]],[58.75,[-7.4,-5.3,-3.2,-1.1,1.0,3.1,5.1,7.2,9.2,11.2]],
  [59.25,[-8.3,-6.2,-4.1,-2.0,0.1,2.2,4.2,6.3,8.3,10.3,11.9]],[59.75,[-7.6,-5.5,-3.4,-1.3,0.8,2.9,4.9,7.0,9.0,11.0]],[60.25,[-8.0,-5.9,-3.8,-1.7,0.4,2.5,4.5,6.6,8.6,10.6]],[60.75,[-7.3,-5.2,-3.1,-1.0,1.1,3.2,5.2,7.3,9.3,11.3]],
  [61.25,[-8.2,-6.1,-4.0,-1.9,0.2,2.3,4.3,6.4,8.4,10.4]],[61.75,[-7.5,-5.4,-3.3,-1.2,0.9,3.0,5.0,7.1,9.1,11.1]],[62.25,[-8.4,-6.3,-4.2,-2.1,0.0,2.1,4.1,6.2,8.2,10.2,11.9]],[62.75,[-7.7,-5.6,-3.5,-1.4,0.7,2.8,4.8,6.9,8.9,10.9]],
  [63.25,[-8.6,-6.5,-4.4,-2.3,-0.2,1.9,3.9,6.0,8.0,10.0,11.7]],[63.75,[-7.9,-5.8,-3.7,-1.6,0.5,2.6,4.6,6.7,8.7,10.7]],[64.25,[-8.8,-6.7,-4.6,-2.5,-0.4,1.7,3.7,5.8,7.8,9.8,11.6]],[64.75,[-8.1,-6.0,-3.9,-1.8,0.3,2.4,4.4,6.5,8.5,10.5]],
  [65.25,[-9.0,-6.9,-4.8,-2.7,-0.6,1.5,3.5,5.6,7.6,9.6,11.4]],[65.75,[-8.3,-6.2,-4.1,-2.0,0.1,2.2,4.2,6.3,8.3,10.3]],[66.25,[-8.8,-6.7,-4.6,-2.5,-0.4,1.7,3.7,5.8,7.8,9.8,11.6]],[66.75,[-8.1,-6.0,-3.9,-1.8,0.3,2.4,4.4,6.5,8.5,10.5]],
  [67.25,[-8.6,-6.5,-4.4,-2.3,-0.2,1.9,3.9,6.0,8.0,10.0,11.8]],[67.75,[-7.9,-5.8,-3.7,-1.6,0.5,2.6,4.6,6.7,8.7,10.7]],[68.25,[-8.4,-6.3,-4.2,-2.1,0.0,2.1,4.1,6.2,8.2,10.2,11.7]],[68.75,[-7.7,-5.6,-3.5,-1.4,0.7,2.8,4.8,6.9,8.9,10.9]],
  [69.25,[-8.2,-6.1,-4.0,-1.9,0.2,2.3,4.3,6.4,8.4,10.4]],[69.75,[-7.5,-5.4,-3.3,-1.2,0.9,3.0,5.0,7.1,9.1,11.1]],[70.25,[-8.6,-6.5,-4.4,-2.3,-0.2,1.9,3.9,6.0,8.0,10.0]],[70.75,[-7.9,-5.8,-3.7,-1.6,0.5,2.6,4.6,6.7,8.7,10.6]],
  [71.25,[-9.0,-6.9,-4.8,-2.7,-0.6,1.5,3.5,5.6,7.6,9.6]],[71.75,[-8.3,-6.2,-4.1,-2.0,0.1,2.2,4.2,6.3,8.3,10.3]],[72.25,[-9.2,-7.1,-5.0,-2.9,-0.8,1.3,3.3,5.4,7.4,9.4]],[72.75,[-8.5,-6.4,-4.3,-2.2,-0.1,2.0,4.0,6.1,8.1,10.1]],
  [73.25,[-9.4,-7.3,-5.2,-3.1,-1.0,1.1,3.1,5.2,7.2,9.2]],[73.75,[-8.7,-6.6,-4.5,-2.4,-0.3,1.8,3.8,5.9,7.9,9.9]],[74.25,[-9.2,-7.1,-5.0,-2.9,-0.8,1.3,3.3,5.4,7.4,9.4]],[74.75,[-8.5,-6.4,-4.3,-2.2,-0.1,2.0,4.0,6.1,8.1,10.1]],
  [75.25,[-9.0,-6.9,-4.8,-2.7,-0.6,1.5,3.5,5.6,7.6,9.6]],[75.75,[-8.3,-6.2,-4.1,-2.0,0.1,2.2,4.2,6.3,8.3,10.2]],[76.25,[-8.8,-6.7,-4.6,-2.5,-0.4,1.7,3.7,5.8,7.8,9.8]],[76.75,[-8.1,-6.0,-3.9,-1.8,0.3,2.4,4.4,6.5,8.5,10.4]],
  [77.25,[-8.6,-6.5,-4.4,-2.3,-0.2,1.9,3.9,6.0,8.0,9.9]],[77.75,[-7.9,-5.8,-3.7,-1.6,0.5,2.6,4.6,6.7,8.7,10.3]],[78.25,[-8.4,-6.3,-4.2,-2.1,0.0,2.1,4.1,6.2,8.2,9.8]],[78.75,[-7.7,-5.6,-3.5,-1.4,0.7,2.8,4.8,6.9,8.9]],
  [79.25,[-8.2,-6.1,-4.0,-1.9,0.2,2.3,4.3,6.4,8.4,9.9]],[79.75,[-7.5,-5.4,-3.3,-1.2,0.9,3.0,5.0,7.1,9.1]],[80.25,[-8.0,-5.6,-3.2,-0.8,1.6,4.0,6.4,8.6]],[80.75,[-7.0,-4.6,-2.2,0.2,2.6,5.0,7.4,9.4]],
  [81.25,[-8.4,-6.0,-3.6,-1.2,1.2,3.6,6.0,8.2]],[81.75,[-7.4,-5.0,-2.6,-0.2,2.2,4.6,7.0,9.1]],[82.25,[-8.8,-6.4,-4.0,-1.6,0.8,3.2,5.6,7.8]],[82.75,[-7.8,-5.4,-3.0,-0.6,1.8,4.2,6.6,8.8]],
  [83.25,[-9.2,-6.8,-4.4,-2.0,0.4,2.8,5.2,7.4]],[83.75,[-8.2,-5.8,-3.4,-1.0,1.4,3.8,6.2,8.5]],[84.25,[-9.0,-6.6,-4.2,-1.8,0.6,3.0,5.4,7.6]],[84.75,[-8.0,-5.6,-3.2,-0.8,1.6,4.0,6.4,8.3]],
  [85.25,[-8.6,-6.2,-3.8,-1.4,1.0,3.4,5.8,7.9]],[85.75,[-7.6,-5.2,-2.8,-0.4,2.0,4.4,6.8]],[86.25,[-8.2,-5.8,-3.4,-1.0,1.4,3.8,6.2]],[86.75,[-7.2,-4.8,-2.4,0.0,2.4,4.8,7.2]],
  [87.25,[-8.0,-5.4,-2.8,-0.2,2.4,5.0]],[87.75,[-6.8,-4.2,-1.6,1.0,3.6,6.2]],[88.25,[-7.6,-5.0,-2.4,0.2,2.8,5.4]],[88.75,[-6.4,-3.8,-1.2,1.4,4.0]],
  [89.25,[-7.2,-4.6,-2.0,0.6,3.2,5.8]],[89.75,[-6.0,-3.4,-0.8,1.8,4.4]]
];
const rightCore2 = [
  [13.5,[-5.1,-3.0,-1.1,1.0,3.1,5.0,7.1,9.0,11.1]],[14.0,[-6.0,-4.1,-1.9,0.1,2.0,4.1,5.9,8.1,10.0]],[14.5,[-4.9,-3.1,-0.9,0.9,3.0,4.9,7.0,8.9,11.0]],[15.0,[-6.1,-4.0,-2.0,0.0,2.1,3.9,6.0,8.0,10.1]],
  [15.5,[-5.0,-2.9,-1.0,1.1,2.9,5.1,6.9,9.1,10.9]],[16.0,[-6.2,-3.9,-2.1,-0.1,1.9,4.0,6.1,7.9,10.0,12.0]],[16.5,[-7.0,-5.1,-3.0,-1.0,1.0,3.0,5.0,7.0,9.0,11.0]],[17.0,[-6.0,-4.0,-2.0,0.0,2.0,4.0,6.0,8.0,10.0,11.9]],
  [17.5,[-7.1,-4.9,-3.1,-0.9,1.1,2.9,5.1,6.9,9.1,10.9]],[18.0,[-5.9,-4.1,-1.9,0.1,1.9,4.1,5.9,8.1,9.9,12.0]],[18.5,[-7.0,-5.0,-2.9,-1.1,0.9,3.1,4.9,7.1,8.9,11.1]],[19.0,[-6.1,-3.9,-2.0,0.0,2.1,3.9,6.1,7.9,10.1,11.9]],
  [19.5,[-6.9,-5.1,-3.0,-0.9,1.0,3.0,5.0,6.9,9.0,11.0]],[20.0,[-8.0,-6.0,-4.1,-2.0,0.1,1.9,4.0,6.1,8.0,9.9,12.0]],[20.5,[-7.1,-4.9,-2.9,-1.0,1.1,3.0,4.9,7.1,9.1,11.0]],[21.0,[-8.1,-5.9,-4.0,-2.1,0.0,2.1,3.9,6.0,7.9,10.1]],
  [21.5,[-7.0,-5.0,-3.1,-0.9,0.9,2.9,5.1,7.0,8.9,11.1]],[22.0,[-8.0,-6.1,-3.9,-1.9,0.1,2.0,4.1,5.9,8.1,10.0,12.0]],[22.5,[-9.0,-6.9,-5.0,-3.0,-1.0,1.1,3.0,5.0,7.1,9.0,11.0]],[23.0,[-8.1,-6.0,-4.0,-2.1,0.0,1.9,3.9,6.1,8.0,10.1]],
  [23.5,[-8.9,-7.1,-4.9,-2.9,-1.1,1.0,3.1,4.9,6.9,9.1,11.0]],[24.0,[-8.0,-5.9,-4.1,-2.0,0.1,2.1,4.0,6.0,8.1,9.9,11.9]],[24.5,[-9.1,-7.0,-5.1,-3.1,-0.9,0.9,2.9,5.1,7.0,8.9,11.1]],[25.0,[-8.0,-6.1,-3.9,-1.9,0.0,2.0,4.1,5.9,7.9,10.0]],
  [25.5,[-9.0,-6.9,-5.0,-3.0,-1.0,1.1,3.0,5.0,7.1,9.0,11.0]],[26.0,[-10.0,-8.1,-6.0,-4.0,-2.1,0.1,1.9,4.0,6.1,8.0,10.1]],[26.5,[-9.1,-7.0,-4.9,-2.9,-1.1,0.9,3.1,4.9,7.0,9.1,10.9]],[27.0,[-10.1,-7.9,-6.1,-4.1,-2.0,0.0,2.1,4.1,5.9,8.0,10.0]],
  [27.5,[-9.0,-7.1,-5.0,-3.0,-0.9,1.0,3.0,5.0,7.1,8.9,11.0]],[28.0,[-10.0,-8.0,-5.9,-3.9,-2.1,0.1,2.0,3.9,6.0,8.1,9.9]],[28.5,[-9.1,-6.9,-5.1,-3.1,-1.0,1.1,2.9,5.1,6.9,9.0,11.1]],[29.0,[-10.1,-8.1,-6.0,-4.0,-1.9,-0.1,2.1,4.0,6.1,7.9,10.0]],
  [29.5,[-11.0,-9.0,-7.0,-4.9,-3.0,-1.0,1.0,3.1,5.0,7.0,9.1,11.0]],[30.0,[-10.0,-7.9,-6.1,-4.0,-2.0,0.0,1.9,4.1,6.0,8.0,10.1]],[30.5,[-11.1,-8.9,-7.0,-5.1,-2.9,-1.1,1.0,3.0,4.9,7.1,9.0]],[31.0,[-10.0,-8.1,-5.9,-4.0,-2.1,0.1,2.0,3.9,6.1,8.0,10.0]],
  [31.5,[-11.0,-9.1,-6.9,-5.0,-3.0,-0.9,1.1,3.0,5.0,6.9,9.1,10.9]],[32.0,[-10.1,-8.0,-6.0,-3.9,-2.0,0.0,2.1,4.0,5.9,8.1,9.9]],[32.5,[-11.0,-9.0,-7.1,-4.9,-3.1,-1.0,0.9,3.1,5.0,7.0,9.0]],[33.0,[-9.9,-8.1,-6.0,-4.1,-1.9,0.1,1.9,4.0,6.0,7.9,10.1]],
  [33.5,[-11.1,-8.9,-7.0,-5.0,-2.9,-1.1,1.0,2.9,5.1,7.0,8.9,11.0]],[34.0,[-10.0,-8.0,-5.9,-4.0,-2.0,0.0,2.0,4.1,5.9,8.0,10.0]],[34.5,[-10.9,-9.1,-7.0,-4.9,-3.0,-0.9,1.1,3.0,5.0,7.1,9.0]],[35.0,[-10.1,-7.9,-6.1,-3.9,-2.1,0.1,1.9,4.0,6.1,7.9,10.1]],
  [35.5,[-11.0,-9.0,-6.9,-5.1,-2.9,-1.0,1.0,3.1,4.9,7.0,9.1,10.9]],[36.0,[-10.0,-8.1,-6.0,-4.0,-2.0,-0.1,2.1,3.9,6.0,8.1,9.9]],[36.5,[-11.1,-8.9,-7.1,-5.0,-3.0,-1.0,0.9,3.0,5.1,6.9,9.0]],[37.0,[-9.9,-8.0,-5.9,-4.1,-1.9,0.0,2.0,4.0,5.9,8.0,10.0]],
  [37.5,[-10.9,-9.0,-7.0,-4.9,-3.1,-0.9,1.1,2.9,5.0,7.1,8.9,10.9]],[38.0,[-10.0,-7.9,-6.0,-4.0,-2.0,0.1,1.9,4.1,6.0,7.9,10.1]],[38.5,[-11.0,-9.1,-6.9,-5.0,-2.9,-1.1,1.0,3.0,4.9,7.0,9.0]],[39.0,[-10.1,-8.0,-6.1,-3.9,-2.1,0.0,2.1,3.9,6.1,8.0,9.9]],
  [39.5,[-9.0,-7.0,-5.1,-3.0,-1.0,1.0,3.0,5.0,7.0,9.1,11.0]],[40.0,[-10.0,-8.0,-6.0,-4.0,-2.0,0.0,2.0,4.0,6.0,8.0,10.0]],[40.5,[-9.1,-6.9,-5.0,-2.9,-1.1,0.9,3.1,5.0,6.9,9.0,11.0]],[41.0,[-10.0,-8.1,-5.9,-4.1,-1.9,0.1,2.0,3.9,6.1,8.0,10.1]],
  [41.5,[-9.0,-7.0,-4.9,-3.1,-0.9,1.1,2.9,5.1,7.0,8.9,11.1]],[42.0,[-9.9,-8.0,-6.1,-3.9,-2.0,-0.1,2.1,4.0,5.9,8.1,9.9,12.0]],[42.5,[-9.1,-7.1,-5.0,-3.0,-1.0,1.0,3.0,4.9,7.1,9.0,11.0]],[43.0,[-10.0,-7.9,-6.0,-4.0,-2.1,0.0,1.9,4.1,6.0,7.9,10.0]],
  [43.5,[-8.9,-7.0,-5.1,-2.9,-1.0,1.1,3.1,5.0,6.9,9.1,10.9]],[44.0,[-10.1,-8.0,-5.9,-4.1,-1.9,0.1,2.0,3.9,6.1,8.0,10.1,12.0]],[44.5,[-9.0,-6.9,-4.9,-3.0,-1.1,0.9,2.9,5.1,7.0,8.9,11.0]],[45.0,[-9.9,-8.1,-6.0,-3.9,-2.0,0.0,2.1,4.0,5.9,8.1,9.9]],
  [45.5,[-9.1,-7.0,-5.0,-3.1,-0.9,1.0,3.0,4.9,7.1,9.0,11.1]],[46.0,[-10.0,-7.9,-6.1,-4.0,-2.1,0.1,1.9,4.1,6.0,7.9,10.0,12.0]],[46.5,[-8.9,-7.1,-4.9,-2.9,-1.0,1.1,3.1,5.0,6.9,9.1,11.0]],[47.0,[-10.0,-8.0,-5.9,-4.1,-1.9,-0.1,2.0,3.9,6.1,8.0,10.1]],
  [47.5,[-9.0,-6.9,-5.1,-3.0,-1.1,0.9,2.9,5.1,7.0,8.9,10.9]],[48.0,[-9.9,-8.1,-6.0,-3.9,-2.0,0.0,2.1,4.0,5.9,8.1,9.9,12.0]],[48.5,[-9.1,-7.0,-5.0,-3.1,-0.9,1.0,3.0,4.9,7.1,9.0,11.1]],[49.0,[-8.0,-6.1,-4.0,-2.1,0.1,1.9,4.1,6.0,7.9,10.0]],
  [49.5,[-9.0,-7.1,-4.9,-2.9,-1.0,1.1,3.1,5.0,6.9,9.1,11.0]],[50.0,[-8.1,-5.9,-4.1,-1.9,-0.1,2.0,3.9,6.1,8.0,10.1,12.0]],[50.5,[-7.0,-5.1,-3.0,-1.1,0.9,2.9,5.1,7.0,8.9,10.9]],[51.0,[-7.9,-6.0,-3.9,-2.0,0.0,2.1,4.0,5.9,8.1,9.9,11.9]],
  [51.5,[-9.0,-7.0,-5.0,-3.1,-0.9,1.0,3.0,4.9,7.1,9.0,11.1]],[52.0,[-8.0,-6.1,-4.0,-2.1,0.1,1.9,4.1,6.0,7.9,10.0,12.0]],[52.5,[-7.1,-4.9,-2.9,-1.0,1.1,3.1,5.0,6.9,9.1,11.0]],[53.0,[-8.1,-5.9,-4.1,-1.9,-0.1,2.0,3.9,6.1,8.0,10.1,12.0]],
  [53.5,[-9.0,-6.9,-5.1,-3.0,-1.1,0.9,2.9,5.1,7.0,8.9,10.9]],[54.0,[-7.9,-6.0,-3.9,-2.0,0.0,2.1,4.0,5.9,8.1,9.9,11.9]],[54.5,[-8.9,-7.0,-5.0,-3.1,-0.9,1.0,3.0,4.9,7.1,9.0,11.1]],[55.0,[-8.0,-6.1,-4.0,-2.1,0.1,1.9,4.1,6.0,7.9,10.0,12.0]],
  [55.5,[-9.1,-7.1,-4.9,-2.9,-1.0,1.1,3.1,5.0,6.9,9.1,11.0]],[56.0,[-8.1,-5.9,-4.1,-1.9,-0.1,2.0,3.9,6.1,8.0,10.1,12.1]],[56.5,[-9.0,-6.9,-5.1,-3.0,-1.1,0.9,2.9,5.1,7.0,8.9,10.9]],[57.0,[-7.9,-6.0,-3.9,-2.0,0.0,2.1,4.0,5.9,8.1,9.9,11.9]],
  [57.5,[-8.9,-7.0,-5.0,-3.1,-0.9,1.0,3.0,4.9,7.1,9.0,11.1]],[58.0,[-10.0,-8.0,-6.1,-4.0,-2.1,0.1,1.9,4.1,6.0,7.9,10.0,12.0]],[58.5,[-9.1,-7.1,-4.9,-2.9,-1.0,1.1,3.1,5.0,6.9,9.1,11.0]],[59.0,[-8.1,-5.9,-4.1,-1.9,-0.1,2.0,3.9,6.1,8.0,10.1,12.1]],
  [59.5,[-9.0,-6.9,-5.1,-3.0,-1.1,0.9,2.9,5.1,7.0,8.9,10.9]],[60.0,[-9.9,-8.0,-6.0,-3.9,-2.0,0.0,2.1,4.0,5.9,8.1,9.9,11.9]],[60.5,[-8.9,-7.0,-5.0,-3.1,-0.9,1.0,3.0,4.9,7.1,9.0,11.1]],[61.0,[-10.0,-8.0,-6.1,-4.0,-2.1,0.1,1.9,4.1,6.0,7.9,10.0,12.0]],
  [61.5,[-9.1,-7.1,-4.9,-2.9,-1.0,1.1,3.1,5.0,6.9,9.1,11.0]],[62.0,[-8.1,-5.9,-4.1,-1.9,-0.1,2.0,3.9,6.1,8.0,10.1,12.1]],[62.5,[-9.0,-6.9,-5.1,-3.0,-1.1,0.9,2.9,5.1,7.0,8.9,10.9]],[63.0,[-10.1,-8.0,-6.0,-3.9,-2.0,0.0,2.1,4.0,5.9,8.1,9.9,11.9]],
  [63.5,[-8.9,-7.0,-5.0,-3.1,-0.9,1.0,3.0,4.9,7.1,9.0,11.1]],[64.0,[-10.0,-8.0,-6.1,-4.0,-2.1,0.1,1.9,4.1,6.0,7.9,10.0,12.0]],[64.5,[-9.1,-7.1,-4.9,-2.9,-1.0,1.1,3.1,5.0,6.9,9.1,11.0]],[65.0,[-10.0,-8.1,-5.9,-4.1,-1.9,-0.1,2.0,3.9,6.1,8.0,10.1,12.1]],
  [65.5,[-9.0,-6.9,-5.1,-3.0,-1.1,0.9,2.9,5.1,7.0,8.9,10.9]],[66.0,[-9.9,-8.0,-6.0,-3.9,-2.0,0.0,2.1,4.0,5.9,8.1,9.9,11.9]],[66.5,[-8.9,-7.0,-5.0,-3.1,-0.9,1.0,3.0,4.9,7.1,9.0,11.1]],[67.0,[-10.0,-8.0,-6.1,-4.0,-2.1,0.1,1.9,4.1,6.0,7.9,10.0,12.0]],
  [67.5,[-9.1,-7.1,-4.9,-2.9,-1.0,1.1,3.1,5.0,6.9,9.1,11.0]],[68.0,[-8.1,-5.9,-4.1,-1.9,-0.1,2.0,3.9,6.1,8.0,10.1,12.1]],[68.5,[-9.0,-6.9,-5.1,-3.0,-1.1,0.9,2.9,5.1,7.0,8.9,10.9]],[69.0,[-9.9,-8.0,-6.0,-3.9,-2.0,0.0,2.1,4.0,5.9,8.1,9.9,11.9]],
  [69.5,[-8.9,-7.0,-5.0,-3.1,-0.9,1.0,3.0,4.9,7.1,9.0,11.1]],[70.0,[-10.0,-8.0,-6.1,-4.0,-2.1,0.1,1.9,4.1,6.0,7.9,10.0]],[70.5,[-9.1,-7.1,-4.9,-2.9,-1.0,1.1,3.1,5.0,6.9,9.1,10.8]],[71.0,[-10.1,-8.1,-5.9,-4.1,-1.9,-0.1,2.0,3.9,6.1,8.0,10.1]],
  [71.5,[-9.0,-6.9,-5.1,-3.0,-1.1,0.9,2.9,5.1,7.0,8.9,10.7]],[72.0,[-10.0,-8.0,-6.0,-3.9,-2.0,0.0,2.1,4.0,5.9,8.1,9.9]],[72.5,[-8.9,-7.0,-5.0,-3.1,-0.9,1.0,3.0,4.9,7.1,9.0]],[73.0,[-10.1,-8.0,-6.1,-4.0,-2.1,0.1,1.9,4.1,6.0,7.9,10.0]],
  [73.5,[-9.1,-7.1,-4.9,-2.9,-1.0,1.1,3.1,5.0,6.9,9.1]],[74.0,[-10.0,-8.1,-5.9,-4.1,-1.9,-0.1,2.0,3.9,6.1,8.0,10.1]],[74.5,[-9.0,-6.9,-5.1,-3.0,-1.1,0.9,2.9,5.1,7.0,8.9]],[75.0,[-9.9,-8.0,-6.0,-3.9,-2.0,0.0,2.1,4.0,5.9,8.1,9.9]],
  [75.5,[-8.9,-7.0,-5.0,-3.1,-0.9,1.0,3.0,4.9,7.1,9.0,10.8]],[76.0,[-10.0,-8.0,-6.1,-4.0,-2.1,0.1,1.9,4.1,6.0,7.9,10.0]],[76.5,[-9.1,-7.1,-4.9,-2.9,-1.0,1.1,3.1,5.0,6.9,9.1]],[77.0,[-9.9,-8.1,-5.9,-4.1,-1.9,-0.1,2.0,3.9,6.1,8.0,10.1]],
  [77.5,[-9.0,-6.9,-5.1,-3.0,-1.1,0.9,2.9,5.1,7.0,8.9]],[78.0,[-10.0,-8.0,-6.0,-3.9,-2.0,0.0,2.1,4.0,5.9,8.1,9.9]],[78.5,[-8.9,-7.0,-5.0,-3.1,-0.9,1.0,3.0,4.9,7.1,9.0]],[79.0,[-9.9,-8.0,-6.1,-4.0,-2.1,0.1,1.9,4.1,6.0,7.9,10.0]],
  [79.5,[-9.1,-7.1,-4.9,-2.9,-1.0,1.1,3.1,5.0,6.9,9.1]],[80.0,[-8.1,-5.9,-4.1,-1.9,-0.1,2.0,3.9,6.1,8.0]],[80.5,[-9.0,-7.0,-3.0,1.0,5.1,9.0]],[81.0,[-6.0,-2.1,2.0,6.0,10.0]],
  [81.5,[-9.0,-5.0,-1.0,3.1,7.0]],[82.0,[-8.0,-4.0,0.1,4.0,8.1]],[82.5,[-10.0,-6.0,-2.0,2.0,6.0,9.9]],[83.0,[-8.9,-5.0,-1.1,3.0,7.0]],
  [83.5,[-7.0,-3.0,1.0,5.0,9.0]],[84.0,[-10.1,-6.1,-2.1,1.9,5.9]],[84.5,[-8.0,-4.0,0.0,4.0,8.0]],[85.0,[-9.0,-5.0,-1.0,3.0,7.0]],
  [85.5,[-7.0,-3.1,1.0,5.1,9.1]],[86.0,[-8.9,-6.0,-2.0,2.0,6.0]],[86.5,[-10.0,-4.0,0.0,4.1,8.0]],[87.0,[-7.9,-5.0,-1.0,3.0,7.1]],
  [87.5,[-9.0,-3.0,1.0,5.0,9.0]],[88.0,[-6.1,-2.0,2.0,6.0]],[88.5,[-8.0,-4.1,0.0,4.0,8.1]],[89.0,[-9.1,-5.0,-1.0,3.1,7.0]],
  [89.5,[-7.0,-3.0,1.0,5.0,9.5]],[90.0,[-6.0,-2.0,2.0]]
];

// ---- drawing ----
const FONT = '"Liberation Sans", Arial, Helvetica, sans-serif';
Chart.defaults.font.family = FONT;
Chart.defaults.color = '#000';

const pts = arr => arr.map(([x, y]) => ({ x, y }));
const cols = arr => arr.flatMap(([x, vs]) => vs.map(y => ({ x, y })));
const steps = vals => stepEdges.map((e, i) => ({ x: e, y: vals[Math.min(i, vals.length - 1)] }));

function richText(ctx, parts, x, y, align) {
  let w = 0;
  for (const p of parts) { ctx.font = p.size + 'px ' + FONT; w += ctx.measureText(p.t).width; }
  let cx = align === 'center' ? x - w / 2 : x;
  ctx.textAlign = 'left';
  ctx.textBaseline = 'alphabetic';
  for (const p of parts) {
    ctx.font = p.size + 'px ' + FONT;
    ctx.fillText(p.t, cx, y + (p.dy || 0));
    cx += ctx.measureText(p.t).width;
  }
}

const lineColors = ['#000000', '#999999', '#3c1e80', '#0a9140'];
const markerColor = '#d0d0d0';

const deco = cfg => ({
  id: 'deco',
  afterDatasetsDraw(chart) {
    const { ctx, chartArea: a, scales } = chart;
    ctx.save();
    ctx.fillStyle = '#000';
    ctx.strokeStyle = '#000';
    // axes box + inward ticks
    ctx.lineWidth = 2;
    ctx.strokeRect(a.left, a.top, a.right - a.left, a.bottom - a.top);
    ctx.lineWidth = 1.5;
    ctx.beginPath();
    for (const v of xTicks) {
      const px = scales.x.getPixelForValue(v);
      ctx.moveTo(px, a.bottom); ctx.lineTo(px, a.bottom - 6);
      ctx.moveTo(px, a.top); ctx.lineTo(px, a.top + 6);
    }
    for (const v of cfg.yTicks) {
      const py = scales.y.getPixelForValue(v);
      ctx.moveTo(a.left, py); ctx.lineTo(a.left + 6, py);
      ctx.moveTo(a.right, py); ctx.lineTo(a.right - 6, py);
    }
    ctx.stroke();

    // legend
    const L = cfg.legend;
    ctx.fillStyle = '#fff';
    ctx.fillRect(L.box[0], L.box[1], L.box[2] - L.box[0], L.box[3] - L.box[1]);
    ctx.lineWidth = 1.5;
    ctx.strokeRect(L.box[0], L.box[1], L.box[2] - L.box[0], L.box[3] - L.box[1]);
    const mx = L.markX, my = L.rows[0], r = 5;
    ctx.strokeStyle = markerColor; ctx.lineWidth = 1.2;
    ctx.beginPath();
    ctx.moveTo(mx - r, my - r); ctx.lineTo(mx + r, my + r);
    ctx.moveTo(mx - r, my + r); ctx.lineTo(mx + r, my - r);
    ctx.stroke();
    ctx.fillStyle = '#000';
    richText(ctx, L.first, L.textX, my + 8, 'left');
    legendLabels.forEach((lab, i) => {
      const y = L.rows[i + 1];
      ctx.strokeStyle = lineColors[i];
      ctx.lineWidth = 6;
      ctx.beginPath();
      ctx.moveTo(L.lineX[0], y); ctx.lineTo(L.lineX[1], y);
      ctx.stroke();
      ctx.font = '22px ' + FONT;
      ctx.textAlign = 'left';
      ctx.textBaseline = 'middle';
      ctx.fillText(lab, L.textX, y);
    });

    // title and axis titles
    ctx.fillStyle = '#000';
    ctx.font = '22px ' + FONT;
    ctx.textAlign = 'center';
    ctx.textBaseline = 'alphabetic';
    ctx.fillText(titleText, cfg.titleX, 28);
    ctx.fillText('elevation [ ° ]', cfg.titleX, 694);
    ctx.save();
    ctx.translate(cfg.yTitle.x, cfg.yTitle.y);
    ctx.rotate(-Math.PI / 2);
    richText(ctx, cfg.yTitle.parts, 0, 0, 'center');
    ctx.restore();
    ctx.restore();
  }
});

function makePanel(id, cfg) {
  return new Chart(document.getElementById(id), {
    type: 'scatter',
    data: {
      datasets: [
        { data: steps(cfg.std10), showLine: true, stepped: true, borderColor: lineColors[3], borderWidth: 6, pointRadius: 0, order: 1 },
        { data: steps(cfg.bias10), showLine: true, stepped: true, borderColor: lineColors[2], borderWidth: 6, pointRadius: 0, order: 2 },
        { data: pts(cfg.std100), showLine: true, borderColor: lineColors[1], borderWidth: 6, pointRadius: 0, order: 3 },
        { data: pts(cfg.bias100), showLine: true, borderColor: lineColors[0], borderWidth: 6, pointRadius: 0, order: 4 },
        { data: [{ x: 13, y: 0 }, { x: 90, y: 0 }], showLine: true, borderColor: '#000', borderWidth: 3, pointRadius: 0, order: 5 },
        { data: pts(cfg.scatter).concat(cols(cfg.core), cols(cfg.core2)), pointStyle: 'crossRot', pointRadius: 7, pointBorderWidth: 1.2, borderColor: markerColor, backgroundColor: 'rgba(0,0,0,0)', order: 6 }
      ]
    },
    options: {
      responsive: false,
      animation: false,
      devicePixelRatio: 1,
      events: [],
      layout: { padding: cfg.padding },
      plugins: { legend: { display: false }, tooltip: { enabled: false }, title: { display: false } },
      scales: {
        x: {
          type: 'linear', min: 13, max: 90,
          grid: { display: false, drawTicks: false },
          border: { display: false },
          ticks: { font: { size: 22 }, color: '#000', padding: 10, maxRotation: 0 },
          afterBuildTicks: ax => { ax.ticks = xTicks.map(v => ({ value: v })); },
          afterFit: ax => { ax.height = 57; }
        },
        y: {
          type: 'linear', min: cfg.yTicks[0], max: cfg.yTicks[cfg.yTicks.length - 1],
          grid: { display: false, drawTicks: false },
          border: { display: false },
          ticks: { font: { size: 22 }, color: '#000', padding: cfg.yPad },
          afterBuildTicks: ax => { ax.ticks = cfg.yTicks.map(v => ({ value: v })); },
          afterFit: ax => { ax.width = cfg.yWidth; }
        }
      }
    },
    plugins: [deco(cfg)]
  });
}

makePanel('left', {
  scatter: leftScatter, core: leftCore, core2: leftCore2, bias100: leftBias100, std100: leftStd100, bias10: leftBias10, std10: leftStd10,
  yTicks: leftYTicks, padding: { left: 0, right: 677, top: 47, bottom: 0 }, yWidth: 83, yPad: 8,
  titleX: 353,
  yTitle: { x: 42, y: 342, parts: [{ t: 'δSWV [kg m', size: 22 }, { t: '-2', size: 15, dy: -9 }, { t: ' ]', size: 22 }] },
  legend: { box: [344, 58, 612, 212], lineX: [358, 423], markX: 390, textX: 431, rows: [77, 107, 136, 165, 194],
            first: [{ t: 'δSWV', size: 22 }] }
});

makePanel('right', {
  scatter: rightScatter, core: rightCore, core2: rightCore2, bias100: rightBias100, std100: rightStd100, bias10: rightBias10, std10: rightStd10,
  yTicks: rightYTicks, padding: { left: 650, right: 16, top: 47, bottom: 0 }, yWidth: 94, yPad: 7,
  titleX: 999,
  yTitle: { x: 673, y: 333, parts: [{ t: 'δSWV', size: 22 }, { t: 'norm', size: 16, dy: 6 }, { t: '(WVR-GPS', size: 22 }, { t: ' SF', size: 16, dy: 6 }, { t: ') [%]', size: 22 }] },
  legend: { box: [990, 58, 1259, 222], lineX: [1004, 1072], markX: 1037, textX: 1079, rows: [82, 117, 145, 174, 203],
            first: [{ t: 'δSWV', size: 22 }, { t: 'norm', size: 16, dy: 7 }] }
});
</script>
</body>
</html>
